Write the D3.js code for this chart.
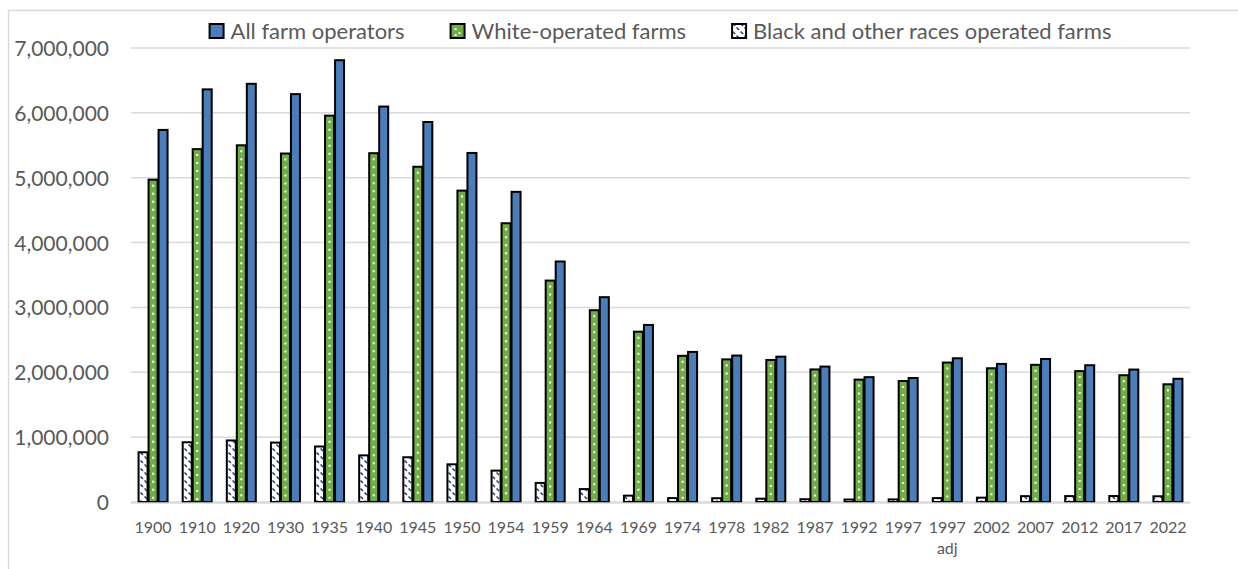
<!DOCTYPE html>
<html>
<head>
<meta charset="utf-8">
<script src="https://cdn.jsdelivr.net/npm/d3@7/dist/d3.min.js"></script>
<style>
  html, body { margin: 0; padding: 0; background: #fff; }
  svg { display: block; }
  text { font-family: Lato, "Open Sans", sans-serif; fill: #595959; }
</style>
</head>
<body>
<svg id="chart" width="1238" height="569"></svg>
<script>
// ---------- data ----------
const years = ["1900","1910","1920","1930","1935","1940","1945","1950","1954","1959","1964","1969",
               "1974","1978","1982","1987","1992","1997","1997 adj","2002","2007","2012","2017","2022"];
const allFarms = [5737000, 6362000, 6448000, 6289000, 6812000, 6097000, 5859000, 5382000, 4782000,
                  3708000, 3158000, 2730000, 2314000, 2258000, 2241000, 2088000, 1925000, 1912000,
                  2216000, 2129000, 2205000, 2109000, 2042000, 1900000];
const whiteFarms = [4970000, 5441000, 5500000, 5373000, 5957000, 5378000, 5169000, 4801000, 4298000,
                    3414000, 2957000, 2626000, 2254000, 2199000, 2190000, 2044000, 1887000, 1865000,
                    2150000, 2062000, 2115000, 2018000, 1955000, 1815000];
const blackFarms = [767000, 921000, 949000, 916000, 856000, 719000, 690000, 581000, 484000,
                    294000, 199000, 98000, 60000, 58000, 51000, 43000, 38000, 40000,
                    60000, 67000, 90000, 91000, 92000, 88000];
const yTicks = [0, 1000000, 2000000, 3000000, 4000000, 5000000, 6000000, 7000000];
const seriesNames = ["All farm operators", "White-operated farms", "Black and other races operated farms"];

// ---------- layout ----------
const W = 1238, H = 569;
const plot = { left: 131, right: 1190, top: 48, bottom: 502 };
const BLUE = "#4A7EBB", GREEN = "#70AD47", NAVY = "#1F3F78", GRID = "#D9D9D9";

const svg = d3.select("#chart");
svg.append("rect").attr("width", W).attr("height", H).attr("fill", "#fff");

// chart border (outer frame, partially visible)
svg.append("path")
  .attr("d", `M8.5,${H + 5} L8.5,10.5 L${W + 5},10.5`)
  .attr("fill", "none").attr("stroke", GRID).attr("stroke-width", 1.5);

const defs = svg.append("defs");
const pat = defs.append("pattern").attr("id", "diag")
  .attr("patternUnits", "userSpaceOnUse").attr("width", 8).attr("height", 8);
pat.append("rect").attr("width", 8).attr("height", 8).attr("fill", "#fff");
pat.append("path").attr("d", "M0.5,0.5 L3,3 M4.5,4.5 L7,7")
  .attr("stroke", NAVY).attr("stroke-width", 1.5).attr("stroke-linecap", "butt");

const x = d3.scaleBand().domain(years).range([plot.left, plot.right]).padding(0);
const y = d3.scaleLinear().domain([0, 7000000]).range([plot.bottom, plot.top]);

// gridlines
svg.append("g").selectAll("line").data(yTicks).join("line")
  .attr("x1", plot.left).attr("x2", plot.right)
  .attr("y1", d => y(d)).attr("y2", d => y(d))
  .attr("stroke", GRID).attr("stroke-width", 1.5);

// y-axis labels
const fmt = d3.format(",");
const yAxis = d3.axisLeft(y).tickValues(yTicks).tickFormat(fmt).tickSize(0).tickPadding(22);
const yg = svg.append("g").attr("transform", `translate(${plot.left},0)`).call(yAxis);
yg.select(".domain").remove();
yg.selectAll("text").attr("font-size", 21).attr("fill", "#595959")
  .style("font-family", "Lato, 'Open Sans', sans-serif").attr("dy", "0.36em");

// bars
const barW = 10;
const series = [
  { key: "black", values: blackFarms, offset: -1 },
  { key: "white", values: whiteFarms, offset: 0 },
  { key: "all",   values: allFarms,   offset: 1 }
];
const gBars = svg.append("g");
series.forEach(s => {
  const cx = (d, i) => x(years[i]) + x.bandwidth() / 2 + s.offset * barW;
  gBars.append("g").selectAll("rect").data(s.values).join("rect")
    .attr("x", (d, i) => cx(d, i) - barW / 2 + 0.5)
    .attr("width", barW - 1)
    .attr("y", d => y(d))
    .attr("height", d => y(0) - y(d))
    .attr("fill", s.key === "all" ? BLUE : s.key === "white" ? GREEN : "url(#diag)")
    .attr("stroke", "#000").attr("stroke-width", 2);
  if (s.key === "white") {
    gBars.append("g").selectAll("line").data(s.values).join("line")
      .attr("x1", (d, i) => cx(d, i)).attr("x2", (d, i) => cx(d, i))
      .attr("y1", d => y(d) + 5).attr("y2", y(0) - 2)
      .attr("stroke", "#fff").attr("stroke-width", 2)
      .attr("stroke-dasharray", "2 6");
  }
});

// x-axis line
svg.append("line").attr("x1", plot.left).attr("x2", plot.right)
  .attr("y1", y(0) + 1).attr("y2", y(0) + 1)
  .attr("stroke", GRID).attr("stroke-width", 1.5);

// x labels
const xg = svg.append("g");
years.forEach(yr => {
  const parts = yr.split(" ");
  const t = xg.append("text")
    .attr("x", x(yr) + x.bandwidth() / 2)
    .attr("y", 533)
    .attr("text-anchor", "middle")
    .attr("font-size", 16);
  parts.forEach((p, j) => {
    t.append("tspan").attr("x", x(yr) + x.bandwidth() / 2)
      .attr("dy", j === 0 ? 0 : 21).text(p);
  });
});

// legend
const lg = svg.append("g");
const markSize = 14, gapText = 7, gapItem = 46;
const items = seriesNames.map((name, i) => {
  const g = lg.append("g");
  const fill = i === 0 ? BLUE : i === 1 ? GREEN : "url(#diag)";
  g.append("rect").attr("x", 0).attr("y", -markSize / 2).attr("width", markSize).attr("height", markSize)
    .attr("fill", fill).attr("stroke", "#000").attr("stroke-width", 2);
  if (i === 1) {
    g.append("rect").attr("x", 4).attr("y", -3).attr("width", 2).attr("height", 2).attr("fill", "#fff");
    g.append("rect").attr("x", 8).attr("y", 1).attr("width", 2).attr("height", 2).attr("fill", "#fff");
    g.append("rect").attr("x", 4).attr("y", 3).attr("width", 2).attr("height", 2).attr("fill", "#fff");
  }
  const t = g.append("text").attr("x", markSize + gapText).attr("y", 0).attr("dy", "0.35em")
    .attr("font-size", 22).text(name);
  return { g, w: markSize + gapText + t.node().getComputedTextLength() };
});
const totalW = d3.sum(items, d => d.w) + gapItem * (items.length - 1);
let lx = (plot.left + plot.right) / 2 - totalW / 2;
items.forEach(it => {
  it.g.attr("transform", `translate(${lx},31)`);
  lx += it.w + gapItem;
});
</script>
</body>
</html>
